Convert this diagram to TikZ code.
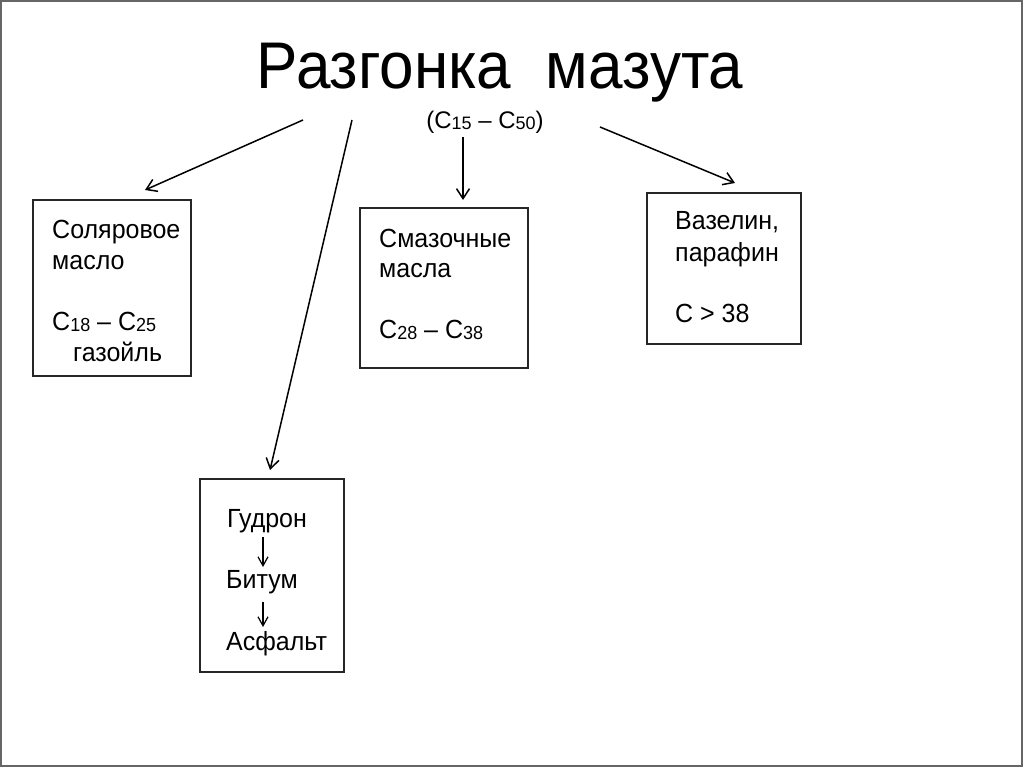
\documentclass[tikz,border=0pt]{standalone}
\usepackage{fontspec}
\setmainfont{Liberation Sans}
\usetikzlibrary{arrows.meta}
\newcommand{\sbs}[1]{\raisebox{-1.5pt}{\fontsize{18}{18}\selectfont #1}}
\tikzset{
  txt/.style={anchor=base west, inner sep=0pt, font=\fontsize{25}{25}\selectfont, yscale=1.05},
  box/.style={draw=black!85, line width=1.4pt},
  arr/.style={line width=1.5pt, -{Straight Barb[length=10pt,width=13pt,line width=1.5pt]}},
  sarr/.style={line width=1.2pt, -{Straight Barb[length=9pt,width=10pt,line width=1.2pt]}},
}
\begin{document}
\begin{tikzpicture}[x=1pt,y=-1pt]
\useasboundingbox (0,0) rectangle (1024,768);
\draw[black!60, line width=2pt] (1,1) rectangle (1022,766);
% title
\node[anchor=base, inner sep=0pt, font=\fontsize{66}{66}\selectfont, xscale=0.94] (title) at (500,88) {Разгонка\ \ мазута};
\node[anchor=base, inner sep=0pt, font=\fontsize{24}{24}\selectfont] (sub) at (485,128) {(C\sbs{15} – C\sbs{50})};
% boxes
\node[box, minimum width=158pt, minimum height=176pt, inner sep=0pt] (boxA) at (112,288) {};
\node[box, minimum width=168pt, minimum height=160pt, inner sep=0pt] (boxB) at (444,288) {};
\node[box, minimum width=154pt, minimum height=151pt, inner sep=0pt] (boxC) at (724,268.5) {};
\node[box, minimum width=144pt, minimum height=193pt, inner sep=0pt] (boxD) at (272,575.5) {};
% box A text
\node[txt] (a1) at (52,238) {Соляровое};
\node[txt] (a2) at (52,269) {масло};
\node[txt] (a3) at (52,330) {C\sbs{18} – C\sbs{25}};
\node[txt] (a4) at (73,361) {газойль};
% box B text
\node[txt] (b1) at (379,247) {Смазочные};
\node[txt] (b2) at (379,277) {масла};
\node[txt] (b3) at (379,338) {C\sbs{28} – C\sbs{38}};
% box C text
\node[txt] (c1) at (675,229) {Вазелин,};
\node[txt] (c2) at (675,261) {парафин};
\node[txt] (c3) at (675,322) {C > 38};
% box D text
\node[txt] (d1) at (227,527) {Гудрон};
\node[txt] (d2) at (226,588) {Битум};
\node[txt] (d3) at (226,650) {Асфальт};
% connectors
\coordinate (s1) at (303,120); \coordinate (e1) at (145,190);
\coordinate (s2) at (352,120); \coordinate (e2) at (270,470);
\coordinate (s3) at (463,137); \coordinate (e3) at (463,200);
\coordinate (s4) at (600,127); \coordinate (e4) at (735,183);
\draw[arr] (s1) -- (e1);
\draw[arr] (s2) -- (e2);
\draw[arr] (s3) -- (e3);
\draw[arr] (s4) -- (e4);
\coordinate (i1s) at (263,537); \coordinate (i1e) at (263,567);
\coordinate (i2s) at (263,602); \coordinate (i2e) at (263,627);
\draw[sarr] (i1s) -- (i1e);
\draw[sarr] (i2s) -- (i2e);
\end{tikzpicture}
\end{document}
